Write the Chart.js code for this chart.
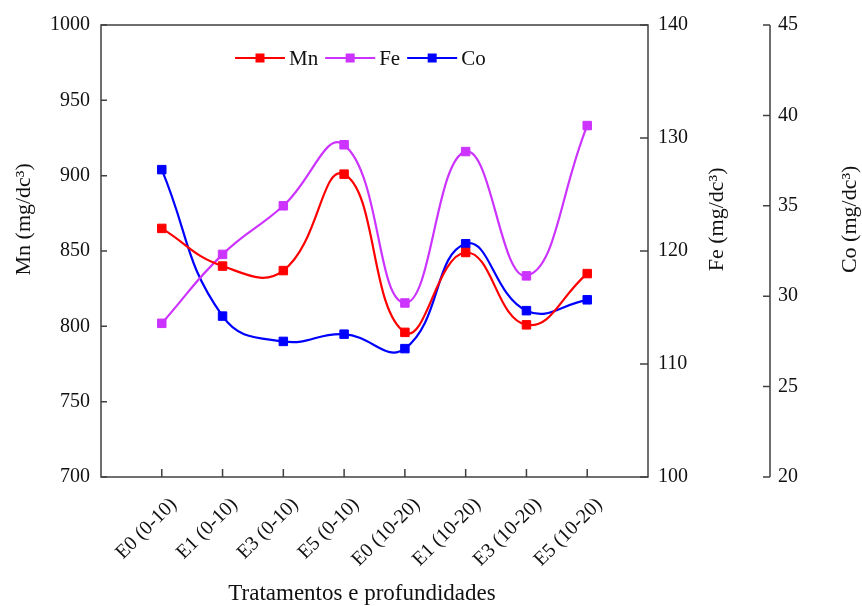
<!DOCTYPE html>
<html>
<head>
<meta charset="utf-8">
<script src="https://cdn.jsdelivr.net/npm/chart.js@4.4.0/dist/chart.umd.min.js"></script>
<style>
  html, body { margin: 0; padding: 0; background: #fff; }
  #wrap { width: 862px; height: 606px; position: relative; }
</style>
</head>
<body>
<div id="wrap"><canvas id="grafico"></canvas></div>
<script>
// Valores
const tratamentos = ['E0 (0-10)', 'E1 (0-10)', 'E3 (0-10)', 'E5 (0-10)', 'E0 (10-20)', 'E1 (10-20)', 'E3 (10-20)', 'E5 (10-20)'];
const mn = [865, 840, 837, 901, 796, 849, 801, 835];
const fe = [113.6, 119.7, 124.0, 129.4, 115.4, 128.8, 117.8, 131.1];
const co = [37.0, 28.9, 27.5, 27.9, 27.1, 32.9, 29.2, 29.8];

const mnEixo = [700, 1000, 50];
const feEixo = [100, 140, 10];
const coEixo = [20, 45, 5];

const fonte = 'Liberation Serif, Times New Roman, serif';
const corTexto = '#111';
const corEixo = '#404040';

// cada ponto fica na posição da categoria (1..8), eixo x vai de 0 a 9
const pontos = arr => arr.map((v, i) => ({ x: i + 1, y: v }));

function serie(label, dados, cor, eixo) {
    return {
        label: label,
        data: pontos(dados),
        yAxisID: eixo,
        borderColor: cor,
        backgroundColor: cor,
        borderWidth: 2.2,
        pointStyle: 'rect',
        pointRadius: 6,
        pointBorderWidth: 1,
        tension: 0.45,
        fill: false
    };
}

// Molduras, marcas dos eixos, títulos e legenda desenhados à mão
const extras = {
    id: 'extras',
    afterDraw(chart) {
        const { ctx, chartArea: a, scales } = chart;
        ctx.save();
        ctx.strokeStyle = corEixo;
        ctx.lineWidth = 1.5;
        ctx.strokeRect(a.left, a.top, a.right - a.left, a.bottom - a.top);

        ctx.beginPath();
        scales.y.ticks.forEach(t => {
            const py = scales.y.getPixelForValue(t.value);
            ctx.moveTo(a.left, py); ctx.lineTo(a.left + 6, py);
        });
        scales.yFe.ticks.forEach(t => {
            const py = scales.yFe.getPixelForValue(t.value);
            ctx.moveTo(a.right, py); ctx.lineTo(a.right - 8, py);
        });
        const cx = scales.yCo.left;
        ctx.moveTo(cx, scales.yCo.top); ctx.lineTo(cx, scales.yCo.bottom);
        scales.yCo.ticks.forEach(t => {
            const py = scales.yCo.getPixelForValue(t.value);
            ctx.moveTo(cx, py); ctx.lineTo(cx - 7, py);
        });
        scales.x.ticks.forEach(t => {
            if (t.value > 0 && t.value <= tratamentos.length) {
                const px = scales.x.getPixelForValue(t.value);
                ctx.moveTo(px, a.bottom); ctx.lineTo(px, a.bottom - 8);
            }
        });
        ctx.stroke();

        // títulos dos eixos
        ctx.fillStyle = corTexto;
        ctx.font = '22px ' + fonte;
        ctx.textAlign = 'center';
        ctx.textBaseline = 'middle';
        const meioY = a.top + (a.bottom - a.top) * 0.43;
        const tituloV = (txt, x) => {
            ctx.save();
            ctx.translate(x, meioY);
            ctx.rotate(-Math.PI / 2);
            ctx.fillText(txt, 0, 0);
            ctx.restore();
        };
        tituloV('Mn (mg/dc³)', a.left - 77);
        tituloV('Fe (mg/dc³)', scales.yFe.left + 69);
        tituloV('Co (mg/dc³)', scales.yCo.left + 80);
        ctx.font = '23px ' + fonte;
        ctx.fillText('Tratamentos e profundidades', a.left + 261, chart.height - 12);

        // legenda: linha + marcador quadrado + nome
        ctx.font = '21px ' + fonte;
        ctx.textAlign = 'left';
        let lx = a.left + 134;
        const ly = a.top + 33;
        chart.data.datasets.forEach(ds => {
            ctx.strokeStyle = ds.borderColor;
            ctx.fillStyle = ds.borderColor;
            ctx.lineWidth = 2;
            ctx.beginPath();
            ctx.moveTo(lx, ly); ctx.lineTo(lx + 50, ly);
            ctx.stroke();
            ctx.fillRect(lx + 25 - 4.5, ly - 4.5, 9, 9);
            ctx.fillStyle = corTexto;
            ctx.fillText(ds.label, lx + 54, ly + 1);
            lx += 54 + ctx.measureText(ds.label).width + 7;
        });
        ctx.restore();
    }
};

const tickFont = { family: fonte, size: 20 };
const semGrade = { display: false, drawTicks: false };

new Chart(document.getElementById('grafico'), {
    type: 'line',
    data: {
        datasets: [
            serie('Mn', mn, '#FF0000', 'y'),
            serie('Fe', fe, '#CC33FF', 'yFe'),
            serie('Co', co, '#0000FF', 'yCo')
        ]
    },
    options: {
        responsive: true,
        maintainAspectRatio: false,
        animation: false,
        layout: { padding: { top: 25 } },
        plugins: {
            legend: { display: false },
            tooltip: { enabled: false }
        },
        scales: {
            x: {
                type: 'linear',
                min: 0,
                max: tratamentos.length + 1,
                grid: semGrade,
                border: { display: false },
                afterFit: s => { s.height = 129; },
                ticks: {
                    stepSize: 1,
                    autoSkip: false,
                    minRotation: 45,
                    maxRotation: 45,
                    padding: 16,
                    labelOffset: 12,
                    color: corTexto,
                    font: tickFont,
                    callback: v => tratamentos[v - 1] || ''
                }
            },
            y: {
                position: 'left',
                min: mnEixo[0], max: mnEixo[1],
                grid: semGrade,
                border: { display: false },
                afterFit: s => { s.width = 101; },
                ticks: { stepSize: mnEixo[2], padding: 11, color: corTexto, font: tickFont, callback: v => String(v) }
            },
            yFe: {
                position: 'right',
                min: feEixo[0], max: feEixo[1],
                grid: semGrade,
                border: { display: false },
                afterFit: s => { s.width = 122; },
                ticks: { stepSize: feEixo[2], padding: 10, color: corTexto, font: tickFont, callback: v => String(v) }
            },
            yCo: {
                position: 'right',
                min: coEixo[0], max: coEixo[1],
                grid: semGrade,
                border: { display: false },
                afterFit: s => { s.width = 92; },
                ticks: { stepSize: coEixo[2], padding: 8, color: corTexto, font: tickFont, callback: v => String(v) }
            }
        }
    },
    plugins: [extras]
});
</script>
</body>
</html>
